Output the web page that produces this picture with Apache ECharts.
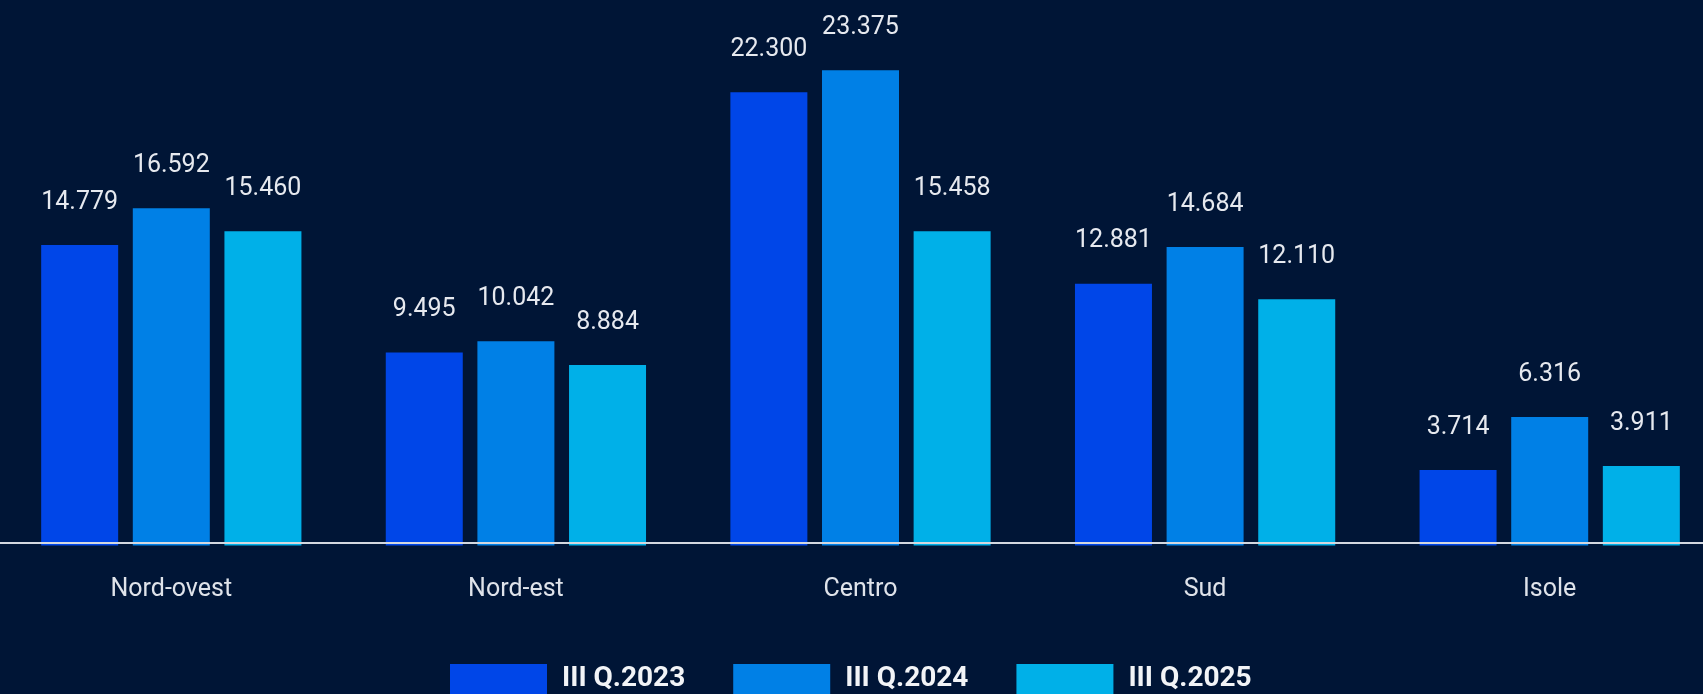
<!DOCTYPE html>
<html>
<head>
<meta charset="utf-8">
<script src="https://cdn.jsdelivr.net/npm/echarts@6/dist/echarts.min.js"></script>
<style>
  html, body { margin: 0; padding: 0; background: #001536; overflow: hidden; }
  #chart { width: 1723px; height: 694px; margin-left: -1px; }
</style>
</head>
<body>
<div id="chart"></div>
<script>
// dati
const categories = ["Nord-ovest", "Nord-est", "Centro", "Sud", "Isole"];
const seriesNames = ["III Q.2023", "III Q.2024", "III Q.2025"];
const values2023 = [14779, 9495, 22300, 12881, 3714];
const values2024 = [16592, 10042, 23375, 14684, 6316];
const values2025 = [15460, 8884, 15458, 12110, 3911];
const colors = ["#0046E8", "#0080E6", "#00B0E8"];

const fmt = (v) => String(v).replace(/\B(?=(\d{3})+(?!\d))/g, ".");

const chart = echarts.init(document.getElementById("chart"), null, { renderer: "canvas" });

const makeSeries = (name, data, color) => ({
  name,
  type: "bar",
  data,
  barWidth: 77,
  barGap: "19%",
  itemStyle: { color },
  label: {
    show: true,
    position: "top",
    distance: 30,
    color: "#e6e9ef",
    fontFamily: "Roboto",
    fontSize: 25,
    formatter: (p) => fmt(p.value),
  },
});

chart.setOption({
  backgroundColor: "#001536",
  animation: false,
  grid: { left: 0, right: 0, top: 37.25, bottom: 148.5, containLabel: false },
  legend: {
    data: seriesNames,
    left: 451,
    top: 664,
    padding: 0,
    icon: "rect",
    itemWidth: 97,
    itemHeight: 30,
    itemGap: 48,
    textStyle: {
      color: "#f2f4f7",
      fontFamily: "Roboto",
      fontWeight: "bold",
      fontSize: 28,
      padding: [0, 0, 0, 10],
    },
  },
  xAxis: {
    type: "category",
    data: categories,
    offset: -2.5,
    z: 5,
    axisLine: { lineStyle: { color: "#d4d8e0", width: 2 } },
    axisTick: { show: false },
    axisLabel: {
      margin: 34,
      color: "#dfe3ea",
      fontFamily: "Roboto",
      fontSize: 25,
    },
  },
  yAxis: {
    type: "value",
    min: 0,
    max: 25000,
    show: false,
    splitLine: { show: false },
  },
  series: [
    makeSeries(seriesNames[0], values2023, colors[0]),
    makeSeries(seriesNames[1], values2024, colors[1]),
    makeSeries(seriesNames[2], values2025, colors[2]),
  ],
});
</script>
</body>
</html>
